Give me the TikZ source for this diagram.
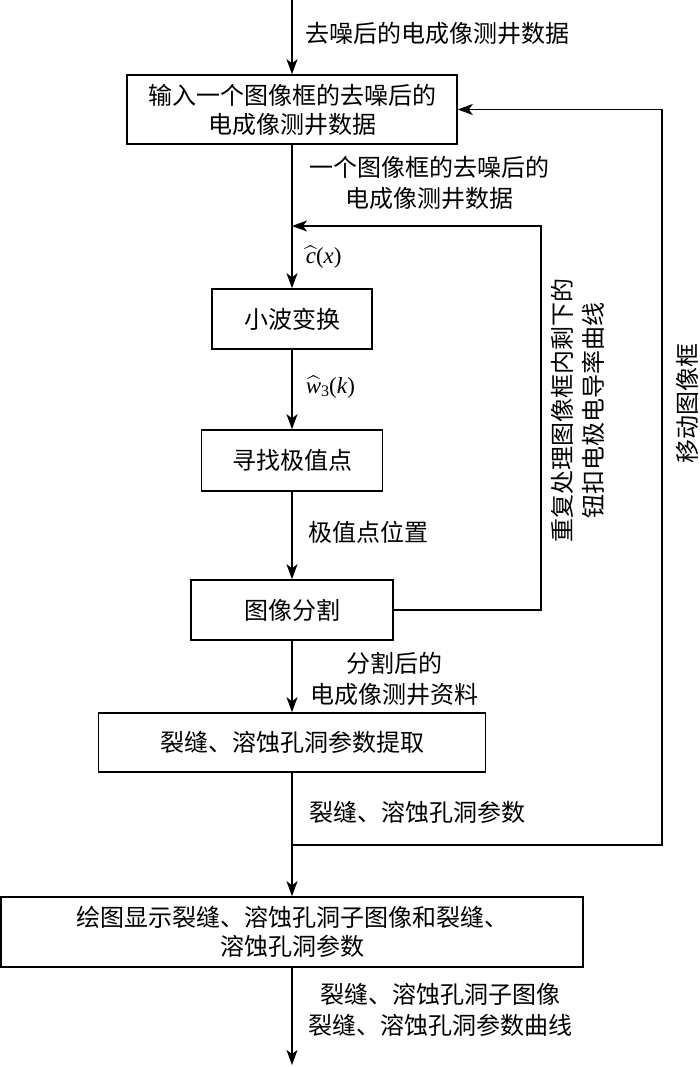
\documentclass[tikz,border=0pt]{standalone}
\usepackage{graphicx}
\usepackage{fontspec}
\newfontfamily\cjk{Noto Sans CJK SC}
\newfontfamily\tms{Liberation Serif}
\usetikzlibrary{arrows.meta}
\begin{document}
\begin{tikzpicture}[x=1pt,y=-1pt,line width=1.6pt,
  box/.style={draw,rectangle,inner sep=0pt,align=center,font=\cjk\fontsize{24}{29}\selectfont},
  lbl/.style={inner sep=0pt,align=center,font=\cjk\fontsize{24}{31}\selectfont},
  mth/.style={inner sep=0pt},
  arr/.style={-{Stealth[length=15pt,width=11pt,inset=4pt]}}]
\useasboundingbox (0,0) rectangle (700,1067);
% boxes
\node[box,minimum width=330pt,minimum height=69pt] (b1) at (292,109.5) {输入一个图像框的去噪后的\\电成像测井数据};
\node[box,minimum width=160pt,minimum height=60pt] (b2) at (292,319) {小波变换};
\node[box,minimum width=181pt,minimum height=61pt] (b3) at (292,460.5) {寻找极值点};
\node[box,minimum width=202pt,minimum height=60pt] (b4) at (292,610) {图像分割};
\node[box,minimum width=387pt,minimum height=59pt] (b5) at (292,742.5) {裂缝、溶蚀孔洞参数提取};
\node[box,minimum width=582pt,minimum height=70pt] (b6) at (292,932) {绘图显示裂缝、溶蚀孔洞子图像和裂缝、\\溶蚀孔洞参数};
% labels
\node[lbl,anchor=west] (t0) at (305,33) {去噪后的电成像测井数据};
\node[lbl] (t1) at (429,183) {一个图像框的去噪后的\\电成像测井数据};
\node[mth,anchor=west] (m1) at (305,257) {\scalebox{2.3}{$\widehat{\mbox{\tms\itshape c}}$\tms(\itshape x\/\upshape)}};
\node[mth,anchor=west] (m2) at (305,387) {\scalebox{2.3}{$\widehat{\mbox{\tms\itshape w}}$\raisebox{-0.3ex}{\tms\fontsize{7}{8}\selectfont 3}\tms(\itshape k\/\upshape)}};
\node[lbl,anchor=west] (t2) at (308,532) {极值点位置};
\node[lbl] (t3) at (394,679) {分割后的\\电成像测井资料};
\node[lbl,anchor=west] (t4) at (309,812) {裂缝、溶蚀孔洞参数};
\node[lbl] (t5) at (440,1010) {裂缝、溶蚀孔洞子图像\\裂缝、溶蚀孔洞参数曲线};
\node[lbl,rotate=90] (r1) at (578,410) {重复处理图像框内剩下的\\钮扣电极电导率曲线};
\node[lbl,rotate=90] (r2) at (687,403) {移动图像框};
% coordinates
\coordinate (top) at (292,0);
\coordinate (bot) at (292,1065);
\coordinate (j1) at (292,226);
\coordinate (c1) at (541,610);
\coordinate (c2) at (541,226);
\coordinate (j2) at (292,845);
\coordinate (c3) at (662,845);
\coordinate (c4) at (662,109.5);
% connectors
\draw[arr] (top) -- (b1);
\draw[arr] (b1) -- (b2);
\draw[arr] (b2) -- (b3);
\draw[arr] (b3) -- (b4);
\draw[arr] (b4) -- (b5);
\draw[arr] (b5) -- (b6);
\draw[arr] (b6) -- (bot);
\draw[arr] (b4.east) -- (c1) -- (c2) -- (j1);
\draw[arr] (j2) -- (c3) -- (c4) -- (b1.east);
\end{tikzpicture}
\end{document}
